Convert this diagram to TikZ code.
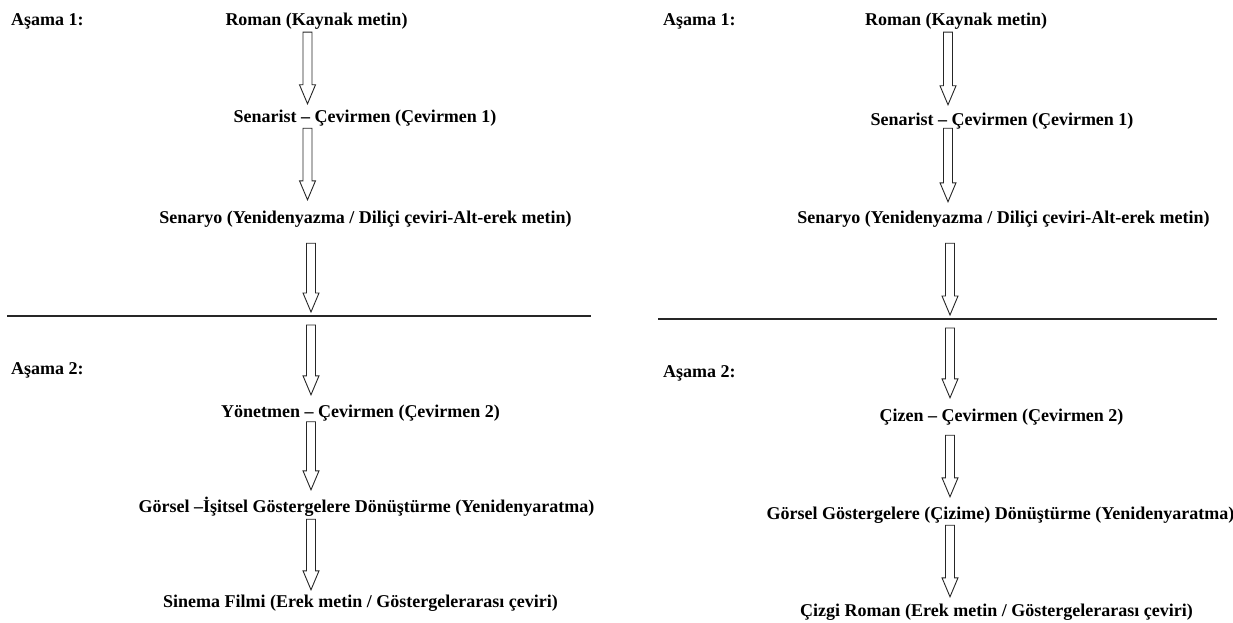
\documentclass[tikz,border=0pt]{standalone}
\usepackage{fontspec}
\setmainfont{Liberation Serif}
\usetikzlibrary{calc}

\tikzset{
  stagelabel/.style={anchor=base west, inner sep=0pt, font=\fontsize{18}{20}\selectfont\bfseries},
  flowtext/.style={anchor=base, inner sep=0pt, text height=12.5pt, text depth=4pt, font=\fontsize{18}{20}\selectfont\bfseries},
  flowarrow/.style={draw=black!85, line width=0.9pt, fill=white, line join=miter},
  divider/.style={draw=black!85, line width=1.2pt}
}

% hollow block arrow, #1 tail point, #2 tip point
\newcommand{\flowarrow}[2]{%
  \draw[flowarrow] let \p1=#1, \p2=#2 in
    (\x1-4.5pt,\y1) -- (\x1+4.5pt,\y1) -- (\x1+4.5pt,\y2+19pt) -- (\x1+8pt,\y2+19pt)
    -- (\x1,\y2) -- (\x1-8pt,\y2+19pt) -- (\x1-4.5pt,\y2+19pt) -- cycle;}

\begin{document}
\begin{tikzpicture}[x=1pt,y=-1pt]
    \useasboundingbox (0,0) rectangle (1233,623);

    % Left: sinema
    \coordinate (axL) at (307.5,0);
    \coordinate (axLb) at (311,0);
    \node[stagelabel] (stageOneL) at (11,26) {Aşama 1:};
    \node[flowtext] (romanL) at (316.5,26) {Roman (Kaynak metin)};
    \node[flowtext] (senaristL) at (365,123) {Senarist – Çevirmen (Çevirmen 1)};
    \node[flowtext] (senaryoL) at (365.5,223) {Senaryo (Yenidenyazma / Diliçi çeviri-Alt-erek metin)};
    \draw[divider] (7,316) -- (591,316);
    \coordinate (divL) at (axLb |- 0,316);
    \node[stagelabel] (stageTwoL) at (11,374) {Aşama 2:};
    \node[flowtext] (yonetmenL) at (360.5,417) {Yönetmen – Çevirmen (Çevirmen 2)};
    \node[flowtext] (gorselL) at (366.5,512) {Görsel –İşitsel Göstergelere Dönüştürme (Yenidenyaratma)};
    \node[flowtext] (sinemaL) at (360.5,607) {Sinema Filmi (Erek metin / Göstergelerarası çeviri)};

    \flowarrow{($(romanL.south -| axL)+(0,2)$)}{($(senaristL.north -| axL)+(0,-6.5)$)}
    \flowarrow{($(senaristL.south -| axL)+(0,1)$)}{($(senaryoL.north -| axL)+(0,-10.5)$)}
    \flowarrow{($(senaryoL.south -| axLb)+(0,16)$)}{($(divL)+(0,-4)$)}
    \flowarrow{($(divL)+(0,9)$)}{($(yonetmenL.north -| axLb)+(0,-9.5)$)}
    \flowarrow{($(yonetmenL.south -| axLb)+(0,0.5)$)}{($(gorselL.north -| axLb)+(0,-9.5)$)}
    \flowarrow{($(gorselL.south -| axLb)+(0,3)$)}{($(sinemaL.north -| axLb)+(0,-4.5)$)}

    % Right: cizgi roman
    \coordinate (axR) at (948,0);
    \coordinate (axRb) at (950,0);
    \node[stagelabel] (stageOneR) at (663,26) {Aşama 1:};
    \node[flowtext] (romanR) at (956,26) {Roman (Kaynak metin)};
    \node[flowtext] (senaristR) at (1002,125) {Senarist – Çevirmen (Çevirmen 1)};
    \node[flowtext] (senaryoR) at (1003.5,223) {Senaryo (Yenidenyazma / Diliçi çeviri-Alt-erek metin)};
    \draw[divider] (658,319) -- (1217,319);
    \coordinate (divR) at (axRb |- 0,319);
    \node[stagelabel] (stageTwoR) at (663,377) {Aşama 2:};
    \node[flowtext] (cizenR) at (1001.5,421) {Çizen – Çevirmen (Çevirmen 2)};
    \node[flowtext] (gorselR) at (1000.5,519) {Görsel Göstergelere (Çizime) Dönüştürme (Yenidenyaratma)};
    \node[flowtext] (cizgiR) at (996.5,616) {Çizgi Roman (Erek metin / Göstergelerarası çeviri)};

    \flowarrow{($(romanR.south -| axR)+(0,2)$)}{($(senaristR.north -| axR)+(0,-7.5)$)}
    \flowarrow{($(senaristR.south -| axR)+(0,-1)$)}{($(senaryoR.north -| axR)+(0,-8.5)$)}
    \flowarrow{($(senaryoR.south -| axRb)+(0,16)$)}{($(divR)+(0,-4)$)}
    \flowarrow{($(divR)+(0,9)$)}{($(cizenR.north -| axRb)+(0,-10.5)$)}
    \flowarrow{($(cizenR.south -| axRb)+(0,10)$)}{($(gorselR.north -| axRb)+(0,-9.5)$)}
    \flowarrow{($(gorselR.south -| axRb)+(0,2)$)}{($(cizgiR.north -| axRb)+(0,-6.5)$)}
\end{tikzpicture}
\end{document}
